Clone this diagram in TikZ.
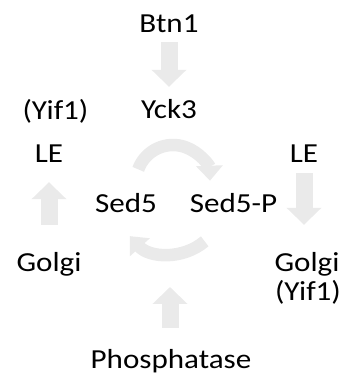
\documentclass[tikz,border=0pt]{standalone}
\usepackage{fontspec}
\setmainfont{Carlito}[FakeStretch=1.13]
\usetikzlibrary{arrows.meta, calc}
\definecolor{arrowgray}{RGB}{234,234,234}

\begin{document}
\begin{tikzpicture}[x=1pt, y=1pt,
    lbl/.style={font=\fontsize{27.5}{32}\selectfont, inner sep=0pt, anchor=base,
        text height=18pt, text depth=6pt},
    blockarr/.style={draw=arrowgray, line width=17pt, -{Triangle[width=34pt, length=17pt]}},
    curvearr/.style={draw=arrowgray, line width=12.5pt, -{Triangle[width=26pt, length=15pt]}}]
    \clip (0,0) rectangle (340,376);

    % Labels
    \node[lbl] (btn) at (169,344) {Btn1};
    \node[lbl] (yck) at (169,258) {Yck3};
    \node[lbl] (yifL) at (55.5,256) {(Yif1)};
    \node[lbl] (leL) at (49,214) {LE};
    \node[lbl] (leR) at (304,214) {LE};
    \node[lbl] (sed) at (126,164) {Sed5};
    \node[lbl] (sedp) at (233.5,164) {Sed5-P};
    \node[lbl] (golgiL) at (49,104) {Golgi};
    \node[lbl] (golgiR) at (307,104) {Golgi};
    \node[lbl] (yifR) at (308,76) {(Yif1)};
    \node[lbl] (pho) at (171,8) {Phosphatase};

    % Cycle centres
    \coordinate (upc) at (173,194);
    \coordinate (loc) at (170,176);
    \coordinate (lowbot) at ($(loc)+(0,-60)$);

    % Straight arrows
    \draw[blockarr, shorten <=4pt, shorten >=13pt] (btn.south) -- (yck.north);
    \draw[blockarr, shorten <=29pt, shorten >=14pt] (golgiL.north) -- (golgiL.north |- leL.south);
    \draw[blockarr, shorten <=5pt, shorten >=29pt] (leR.south) -- (leR.south |- golgiR.north);
    \draw[blockarr, shorten <=22pt, shorten >=27pt] (pho.north -| lowbot) -- (lowbot);

    % Sed5 cycle
    \draw[curvearr] ($(upc)+(160:37pt)$) arc[start angle=160, end angle=2, radius=37pt];
    \draw[curvearr] ($(loc)+(-50:54pt)$) arc[start angle=-50, end angle=-138, radius=54pt];
\end{tikzpicture}
\end{document}
